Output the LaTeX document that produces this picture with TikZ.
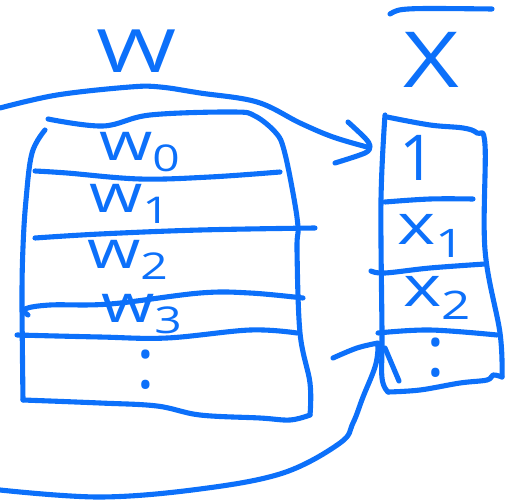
\documentclass[tikz,border=0pt]{standalone}
\usepackage{fontspec}
\setmainfont{Open Sans}
\usepackage{graphicx}
\definecolor{ink}{RGB}{12,112,250}
\newcommand\hand[2][1.3]{\scalebox{#1}[1]{#2}}
\tikzset{
  pen/.style={draw=ink, line width=2.9pt, line cap=round, line join=round},
  lbl/.style={text=ink, inner sep=0pt},
}
\begin{document}
\begin{tikzpicture}[x=0.02cm, y=-0.02cm]
\useasboundingbox (0,0) rectangle (509,499);

% ---- matrix W ----
\draw[pen] plot[smooth, tension=0.6] coordinates {(48,119) (103,126) (150,115) (233,112) (255,116) (276,133) (284,150) (293,193) (298,227) (297,250) (300,333) (310,383) (310,415)};
\draw[pen] plot[smooth, tension=0.6] coordinates {(310,415) (290,420) (260,418) (200,415) (157,406) (100,403) (23,400)};
\draw[pen] plot[smooth, tension=0.6] coordinates {(45,130) (32,153) (26,200) (23,247) (22,300) (23,400)};
% row separators
\draw[pen] plot[smooth, tension=0.6] coordinates {(35,171) (67,173) (140,179) (210,177) (280,172)};
\draw[pen] plot[smooth, tension=0.6] coordinates {(35,238) (100,234) (200,230) (315,228)};
\draw[pen] plot[smooth, tension=0.6] coordinates {(28,315) (25,309) (50,305) (110,304) (200,293) (250,293) (303,298)};
\draw[pen] plot[smooth, tension=0.6] coordinates {(17,335) (100,337) (167,338) (250,330) (297,333)};

% ---- vector X ----
\draw[pen] plot[smooth, tension=0.6] coordinates {(387,117) (430,125) (463,128) (477,133) (485,145) (485,250) (500,333) (502,377)};
\draw[pen] plot[smooth, tension=0.6] coordinates {(385,115) (381,200) (382,333) (382,378) (388,392)};
\draw[pen] plot[smooth, tension=0.6] coordinates {(388,392) (420,390) (460,383) (487,380) (493,375) (502,377)};
% cell separators
\draw[pen] plot[smooth, tension=0.6] coordinates {(385,202) (430,199) (473,199)};
\draw[pen] plot[smooth, tension=0.6] coordinates {(371,271) (385,273) (430,268) (485,264)};
\draw[pen] plot[smooth, tension=0.6] coordinates {(378,333) (430,330) (497,335)};

% ---- connecting arrows ----
\draw[pen] plot[smooth, tension=0.6] coordinates {(0,108) (57,95) (130,87) (160,87) (200,93) (257,102) (300,123) (333,137) (367,147)};
\draw[pen] plot[smooth, tension=0.5] coordinates {(348,122) (365,138) (370,146) (365,153) (335,163)};
\draw[pen] plot[smooth, tension=0.6] coordinates {(0,490) (100,497) (200,489) (283,473) (340,443) (353,423) (363,397) (375,367) (378,348) (376,344)};
\draw[pen] plot[smooth, tension=0.6] coordinates {(333,358) (357,348) (378,343)};
\draw[pen] (385,348) -- (399,381);

% ---- labels ----
\node[lbl, font=\fontsize{34}{34}\selectfont] (wlab) at (137,51) {\hand[1.45]{W}};
\node[lbl, font=\fontsize{44}{44}\selectfont] (xlab) at (431,60) {\hand[1.25]{X}};
\draw[pen] (390,14) .. controls (400,8) .. (492,9);

\node[lbl, font=\fontsize{30}{30}\selectfont] (w0) at (140,152) {\hand{w\textsubscript{0}}};
\node[lbl, font=\fontsize{30}{30}\selectfont] (w1) at (130,204) {\hand{w\textsubscript{1}}};
\node[lbl, font=\fontsize{30}{30}\selectfont] (w2) at (128,260) {\hand{w\textsubscript{2}}};
\node[lbl, font=\fontsize{30}{30}\selectfont] (w3) at (142,314) {\hand{w\textsubscript{3}}};
\node[lbl, font=\fontsize{40}{40}\selectfont] (wdots) at (146,370) {:};

\node[lbl, font=\fontsize{36}{36}\selectfont] (one) at (418,158) {1};
\node[lbl, font=\fontsize{32}{32}\selectfont] (x1) at (432,236) {\hand{x\textsubscript{1}}};
\node[lbl, font=\fontsize{32}{32}\selectfont] (x2) at (438,298) {\hand{x\textsubscript{2}}};
\node[lbl, font=\fontsize{40}{40}\selectfont] (xdots) at (436,358) {:};
\end{tikzpicture}
\end{document}
